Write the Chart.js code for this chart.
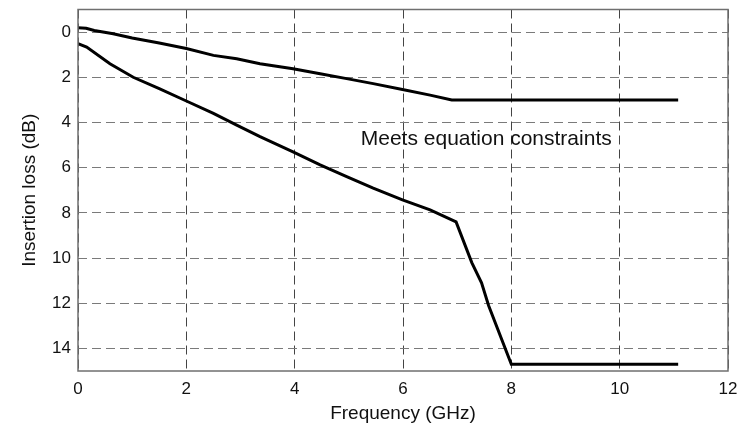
<!DOCTYPE html>
<html>
<head>
<meta charset="utf-8">
<script src="https://cdn.jsdelivr.net/npm/chart.js@4"></script>
<style>
  html, body { margin: 0; padding: 0; background: #fff; }
  #wrap { width: 747px; height: 425px; position: relative; }
</style>
</head>
<body>
<div id="wrap"><canvas id="lossChart"></canvas></div>
<script>
// values
const freqUpper = [0, 0.15, 0.3, 0.65, 1.0, 1.5, 2.0, 2.5, 2.93, 3.36, 3.97, 4.47, 4.96, 5.45, 5.99, 6.5, 6.9, 11.08];
const lossUpper = [-0.19, -0.17, -0.07, 0.07, 0.26, 0.48, 0.73, 1.03, 1.18, 1.40, 1.62, 1.84, 2.06, 2.28, 2.54, 2.79, 3.0, 3.0];

const freqLower = [0, 0.16, 0.59, 1.02, 1.5, 2.0, 2.5, 2.93, 3.36, 3.97, 4.47, 4.96, 5.45, 5.99, 6.5, 6.98, 7.27, 7.45, 7.58, 8.0, 11.08];
const lossLower = [0.51, 0.66, 1.4, 2.0, 2.5, 3.05, 3.6, 4.12, 4.63, 5.30, 5.88, 6.40, 6.91, 7.43, 7.87, 8.4, 10.2, 11.1, 12.1, 14.7, 14.7];

const xTicks = [0, 2, 4, 6, 8, 10, 12];
const yTicks = [0, 2, 4, 6, 8, 10, 12, 14];

const noteText = 'Meets equation constraints';
const notePos = { x: 5.22, y: 4.74 };

const FONT = '"Liberation Sans", Arial, sans-serif';

function toPoints(xs, ys) {
    return xs.map((x, i) => ({ x: x, y: ys[i] }));
}

// box around plot area + text label
const framePlugin = {
    id: 'frame',
    afterDatasetsDraw(chart) {
        const { ctx, chartArea: a, scales } = chart;
        ctx.save();
        ctx.font = '21px ' + FONT;
        ctx.fillStyle = '#111';
        ctx.textBaseline = 'middle';
        ctx.textAlign = 'left';
        ctx.fillText(noteText, scales.x.getPixelForValue(notePos.x), scales.y.getPixelForValue(notePos.y));
        ctx.strokeStyle = '#6f6f6f';
        ctx.lineWidth = 1.5;
        ctx.setLineDash([]);
        ctx.strokeRect(a.left, a.top, a.right - a.left, a.bottom - a.top);
        ctx.restore();
    }
};

document.addEventListener("DOMContentLoaded", function () {
    const ctx = document.getElementById('lossChart').getContext('2d');

    new Chart(ctx, {
        type: 'line',
        data: {
            datasets: [{
                data: toPoints(freqUpper, lossUpper),
                borderColor: '#000',
                borderWidth: 3,
                pointRadius: 0,
                tension: 0
            }, {
                data: toPoints(freqLower, lossLower),
                borderColor: '#000',
                borderWidth: 3,
                pointRadius: 0,
                tension: 0
            }]
        },
        options: {
            responsive: true,
            maintainAspectRatio: false,
            animation: false,
            layout: { padding: { left: 0, right: 19, top: 9.5, bottom: 0 } },
            plugins: {
                legend: { display: false },
                tooltip: { enabled: false }
            },
            scales: {
                x: {
                    type: 'linear',
                    min: 0,
                    max: 12,
                    afterBuildTicks: s => { s.ticks = xTicks.map(v => ({ value: v })); },
                    afterFit: s => { s.height = 54; s.paddingLeft = 0; s.paddingRight = 0; },
                    grid: { color: '#444', lineWidth: 1, drawTicks: false },
                    border: { display: false, dash: [9, 5] },
                    ticks: {
                        color: '#111',
                        padding: 8,
                        maxRotation: 0,
                        font: { family: FONT, size: 17 }
                    },
                    title: {
                        display: true,
                        text: 'Frequency (GHz)',
                        color: '#111',
                        padding: { top: 11, bottom: 0 },
                        font: { family: FONT, size: 19 }
                    }
                },
                y: {
                    type: 'linear',
                    min: -1,
                    max: 15,
                    reverse: true,
                    afterBuildTicks: s => { s.ticks = yTicks.map(v => ({ value: v })); },
                    afterFit: s => { s.width = 78; s.paddingTop = 0; s.paddingBottom = 0; },
                    grid: { color: '#7a7a7a', lineWidth: 1, drawTicks: false },
                    border: { display: false, dash: [9, 5] },
                    ticks: {
                        color: '#111',
                        padding: 7,
                        font: { family: FONT, size: 17 }
                    },
                    title: {
                        display: true,
                        text: 'Insertion loss (dB)',
                        color: '#111',
                        padding: { top: 18, bottom: 0 },
                        font: { family: FONT, size: 19 }
                    }
                }
            }
        },
        plugins: [framePlugin]
    });
});
</script>
</body>
</html>
